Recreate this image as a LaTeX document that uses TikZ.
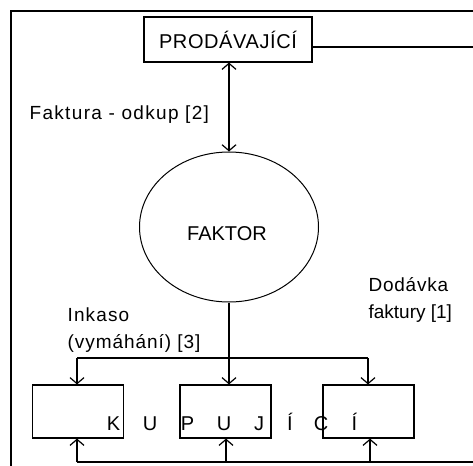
\documentclass[tikz,border=0pt]{standalone}
\usepackage{fontspec}
\setmainfont{Liberation Sans}
\usetikzlibrary{arrows.meta,shapes.geometric}
\begin{document}
\begin{tikzpicture}[x=1pt,y=-1pt,
  line width=1.2pt,
  box/.style={draw, rectangle, inner sep=0pt, minimum width=91pt, minimum height=53pt},
  arr/.style={-{Straight Barb[length=6pt,width=14pt,line width=1.2pt]}},
  darr/.style={{Straight Barb[length=6pt,width=14pt,line width=1.2pt]}-{Straight Barb[length=6pt,width=14pt,line width=1.2pt]}},
  lbl/.style={inner sep=0pt, font=\fontsize{19}{22}\selectfont},
  captext/.style={inner sep=0pt, font=\fontsize{20}{24}\selectfont, anchor=base},
  frame/.style={line width=2pt}]
\useasboundingbox (0,0) rectangle (473,465);
% outer frame
\coordinate (fbl) at (11,466);
\coordinate (ftl) at (11,11);
\coordinate (ftr) at (474,11);
\draw[frame] (fbl) -- (ftl) -- (ftr);
% nodes
\node[draw, rectangle, inner sep=0pt, minimum width=168pt, minimum height=45pt,
      font=\addfontfeature{LetterSpace=3}\fontsize{20}{24}\selectfont] (prod) at (228,39.5) {PRODÁVAJÍCÍ};
\node[draw, ellipse, line width=1pt, inner sep=0pt, minimum width=179pt, minimum height=150pt] (faktor) at (229,227) {};
\node[captext] (ftext) at (227,240) {FAKTOR};
\node[box] (k1) at (78,411.5) {};
\node[box] (k2) at (225.5,411.5) {};
\node[box] (k3) at (368.5,411.5) {};
% right edge coordinates
\coordinate (pr) at (474,47);
\coordinate (bot) at (474,462);
% connectors
\draw (prod.east |- pr) -- (pr);
\draw[darr] (prod.south -| faktor.north) -- (faktor.north);
\draw[arr] (faktor.south) -- (faktor.south |- k2.north);
\coordinate (hl) at (77,358);
\coordinate (hr) at (368,358);
\draw (hl) -- (hr);
\draw[arr] (hl) -- (hl |- k1.north);
\draw[arr] (hr) -- (hr |- k3.north);
\coordinate (b1) at (77,462);
\coordinate (b2) at (226,462);
\coordinate (b3) at (370,462);
\draw (b1) -- (bot);
\draw[arr] (b1) -- (b1 |- k1.south);
\draw[arr] (b2) -- (b2 |- k2.south);
\draw[arr] (b3) -- (b3 |- k3.south);
% labels
\node[lbl, anchor=base west, font=\addfontfeature{LetterSpace=7}\fontsize{19}{22}\selectfont] (l2) at (29,120) {Faktura - odkup [2]};
\node[lbl, anchor=base west, font=\addfontfeature{LetterSpace=6}\fontsize{19}{22}\selectfont] (l3a) at (67,321) {Inkaso};
\node[lbl, anchor=base west, font=\addfontfeature{LetterSpace=5}\fontsize{19}{22}\selectfont] (l3b) at (67,348) {(vymáhání) [3]};
\node[lbl, anchor=base west, font=\addfontfeature{LetterSpace=4}\fontsize{19}{22}\selectfont] (l1a) at (368,291) {Dodávka};
\node[lbl, anchor=base west] (l1b) at (368,318) {faktury [1]};
% KUPUJICI letters
\node[captext] (c1) at (113.5,430) {K};
\node[captext] (c2) at (150,430) {U};
\node[captext] (c3) at (187.5,430) {P};
\node[captext] (c4) at (224,430) {U};
\node[captext] (c5) at (259,430) {J};
\node[captext] (c6) at (290,430) {Í};
\node[captext] (c7) at (321,430) {C};
\node[captext] (c8) at (354.5,430) {Í};
\end{tikzpicture}
\end{document}
